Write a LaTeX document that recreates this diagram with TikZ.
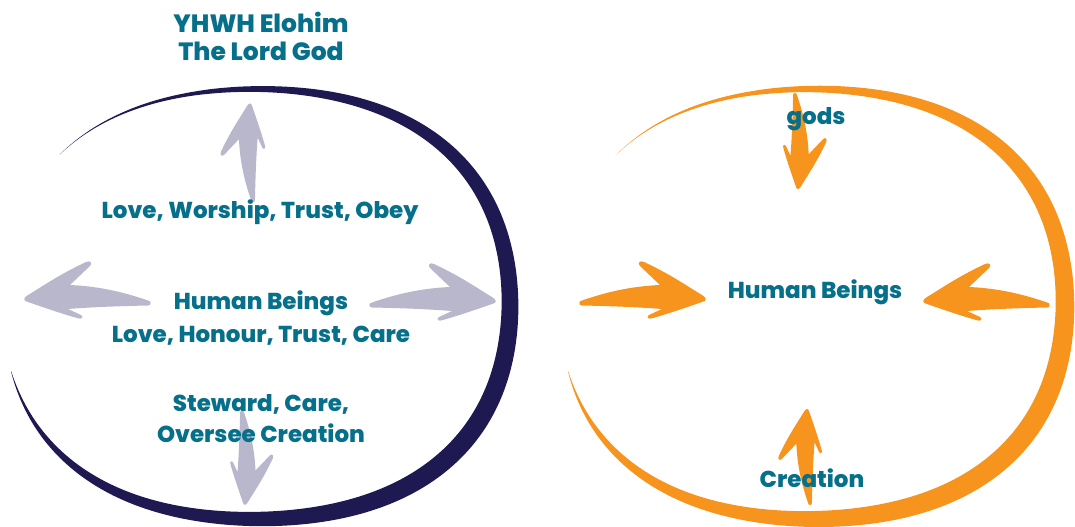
\documentclass[tikz,border=0pt]{standalone}
\usepackage{fontspec}
\setmainfont{Poppins}[BoldFont={Poppins ExtraBold}]

\definecolor{godteal}{RGB}{6,111,138}
\definecolor{ringnavy}{RGB}{31,25,82}
\definecolor{idolorange}{RGB}{247,148,30}
\definecolor{arrowgrey}{RGB}{185,183,204}

\tikzset{
  label text/.style={font=\fontsize{11.5}{14}\selectfont\bfseries, text=godteal,
    align=center, inner sep=0pt},
  % hand drawn arrow, tail at the origin, pointing along +x
  brush arrow/.pic={
    \fill (0,-2.5) .. controls (-3.5,-2.5) and (-3.5,2.5) .. (0,2.5)
      .. controls (30,13) and (55,17) .. (78,18)
      -- (58,37) .. controls (55,40) and (58,43) .. (62,41)
      .. controls (90,28) and (108,15) .. (120,8)
      .. controls (125,5) and (125,2) .. (120,1)
      .. controls (100,-6) and (85,-11) .. (71,-15)
      .. controls (66,-17) and (64,-14) .. (67,-12)
      -- (80,-6)
      .. controls (55,-4) and (25,-3) .. (0,-2.5) -- cycle;
  }
}

\begin{document}
\begin{tikzpicture}[x=0.5pt, y=0.5pt,
    declare function={
      bw(\u)=sin(180*pow((139-\u)/302,1.25));
    }]
  \useasboundingbox (0,0) rectangle (1075,-526);

  % === Left ring: God ===
  \fill[ringnavy] plot[domain=138:-162, samples=121, smooth]
      ({256+(254+9*bw(\x))*(1+0.04*sin(2*\x)*sin(2*\x))*cos(\x)},
       {-304+(215+9*bw(\x))*(1+0.04*sin(2*\x)*sin(2*\x))*sin(\x)})
    -- plot[domain=-162:138, samples=121, smooth]
      ({256+(254-9*bw(\x))*(1+0.04*sin(2*\x)*sin(2*\x))*cos(\x)},
       {-304+(215-9*bw(\x))*(1+0.04*sin(2*\x)*sin(2*\x))*sin(\x)}) -- cycle;

  % === Right ring: gods ===
  \fill[idolorange] plot[domain=138:-162, samples=121, smooth]
      ({812+(253+10*bw(\x))*(1+0.04*sin(2*\x)*sin(2*\x))*cos(\x)},
       {-304+(215+10*bw(\x))*(1+0.04*sin(2*\x)*sin(2*\x))*sin(\x)})
    -- plot[domain=-162:138, samples=121, smooth]
      ({812+(253-10*bw(\x))*(1+0.04*sin(2*\x)*sin(2*\x))*cos(\x)},
       {-304+(215-10*bw(\x))*(1+0.04*sin(2*\x)*sin(2*\x))*sin(\x)}) -- cycle;

  % Arrow tails
  \coordinate (god tail) at (253,-200);
  \coordinate (creation tail) at (242,-412);
  \coordinate (west tail) at (148,-303);
  \coordinate (east tail) at (372,-305);
  \coordinate (gods tail) at (795,-95);
  \coordinate (earth tail) at (810,-503);
  \coordinate (left tail) at (582,-303);
  \coordinate (right tail) at (1047,-305);

  % Grey arrows, pointing out
  \pic[fill=arrowgrey, rotate=90, scale=.78] at (god tail) {brush arrow};
  \pic[fill=arrowgrey, rotate=-90, scale=.75] at (creation tail) {brush arrow};
  \pic[fill=arrowgrey, xscale=-1] at (west tail) {brush arrow};
  \pic[fill=arrowgrey] at (east tail) {brush arrow};

  % Orange arrows, pointing in
  \pic[fill=idolorange, rotate=-90, scale=.76] at (gods tail) {brush arrow};
  \pic[fill=idolorange, rotate=90, scale=.76] at (earth tail) {brush arrow};
  \pic[fill=idolorange] at (left tail) {brush arrow};
  \pic[fill=idolorange, xscale=-1] at (right tail) {brush arrow};

  % Texts
  \node[label text, font=\fontsize{12.5}{14}\selectfont\bfseries] (god) at (261,-36) {YHWH Elohim\\The Lord God};
  \node[label text] (worship) at (260,-212) {Love, Worship, Trust, Obey};
  \node[label text] (humans) at (261,-318) {Human Beings\\[2.5pt]Love, Honour, Trust, Care};
  \node[label text] (steward) at (261,-419) {Steward, Care,\\[1.5pt]Oversee Creation};
  \node[label text] (gods) at (816,-119) {gods};
  \node[label text] (idol humans) at (815,-292) {Human Beings};
  \node[label text] (creation) at (812,-478) {Creation};
\end{tikzpicture}
\end{document}
